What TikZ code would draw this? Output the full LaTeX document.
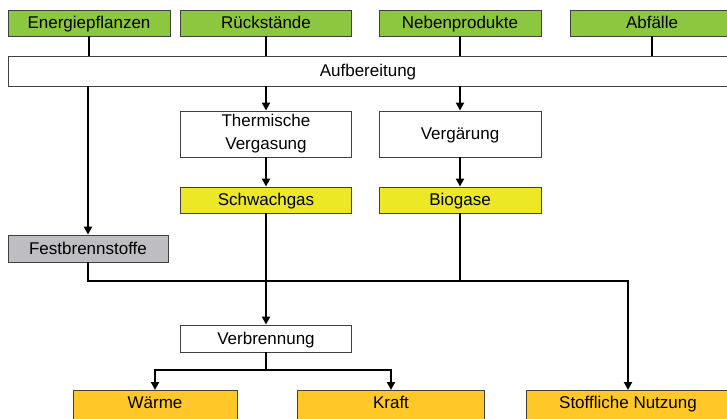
\documentclass[tikz,border=0pt]{standalone}
\usepackage{fontspec}
\setmainfont{Liberation Sans}
\usetikzlibrary{arrows.meta}
\definecolor{gruen}{RGB}{141,198,63}
\definecolor{gelb}{RGB}{236,232,38}
\definecolor{orangegelb}{RGB}{255,200,40}
\definecolor{grau}{RGB}{190,190,194}
\definecolor{rand}{RGB}{64,64,64}
\tikzset{
  kasten/.style={draw=rand, line width=0.9pt, inner sep=0pt, align=center,
    text height=12pt, text depth=0pt, font=\fontsize{17}{23}\selectfont},
  unten/.style={kasten, fill=orangegelb, anchor=north, text height=18pt, text depth=16pt},
  pfeil/.style={line width=2pt, -{Triangle[width=8pt,length=8pt]}},
  linie/.style={line width=2pt},
}
\begin{document}
\begin{tikzpicture}[x=1pt,y=-1pt]
\path[use as bounding box, clip] (0,0) rectangle (727,419);
\node[kasten, fill=gruen, minimum width=162pt, minimum height=26pt] (ep) at (89,23) {Energiepflanzen};
\node[kasten, fill=gruen, minimum width=171pt, minimum height=26pt] (rs) at (266,23) {Rückstände};
\node[kasten, fill=gruen, minimum width=162pt, minimum height=26pt] (np) at (460,23) {Nebenprodukte};
\node[kasten, fill=gruen, minimum width=164pt, minimum height=26pt] (ab) at (652,23) {Abfälle};
\node[kasten, fill=white, minimum width=720pt, minimum height=30pt] (aufb) at (368,71) {Aufbereitung};
\node[kasten, fill=white, minimum width=171pt, minimum height=46pt, text height=, text depth=] (therm) at (266,134) {Thermische\\Vergasung};
\node[kasten, fill=white, minimum width=162pt, minimum height=46pt] (verg) at (460,134) {Vergärung};
\node[kasten, fill=gelb, minimum width=171pt, minimum height=26pt] (schwach) at (266,200) {Schwachgas};
\node[kasten, fill=gelb, minimum width=162pt, minimum height=26pt] (bio) at (460,200) {Biogase};
\node[kasten, fill=grau, minimum width=160pt, minimum height=27pt] (fest) at (88,248.5) {Festbrennstoffe};
\node[kasten, fill=white, minimum width=171pt, minimum height=27pt] (verbr) at (266,338.5) {Verbrennung};
\node[unten, minimum width=164pt] (waerme) at (155,390) {Wärme};
\node[unten, minimum width=187pt] (kraft) at (391,390) {Kraft};
\node[unten, minimum width=204pt] (stoff) at (628,390) {Stoffliche Nutzung};
\coordinate (sammel) at (0,281);
\coordinate (verteil) at (266,370);
\draw[linie] (ep.south) -- (ep.south |- aufb.north);
\draw[linie] (rs.south) -- (rs.south |- aufb.north);
\draw[linie] (np.south) -- (np.south |- aufb.north);
\draw[linie] (ab.south) -- (ab.south |- aufb.north);
\draw[pfeil] (fest.north |- aufb.south) -- (fest.north);
\draw[pfeil] (therm.north |- aufb.south) -- (therm.north);
\draw[pfeil] (verg.north |- aufb.south) -- (verg.north);
\draw[pfeil] (therm) -- (schwach);
\draw[pfeil] (verg) -- (bio);
\draw[pfeil] (schwach) -- (verbr);
\draw[linie] (bio.south) -- (bio.south |- sammel);
\draw[pfeil] (fest.south) |- (stoff.north |- sammel) -- (stoff.north);
\draw[linie] (verbr.south) -- (verteil);
\draw[pfeil] (verteil) -| (waerme.north);
\draw[pfeil] (verteil) -| (kraft.north);
\end{tikzpicture}
\end{document}
